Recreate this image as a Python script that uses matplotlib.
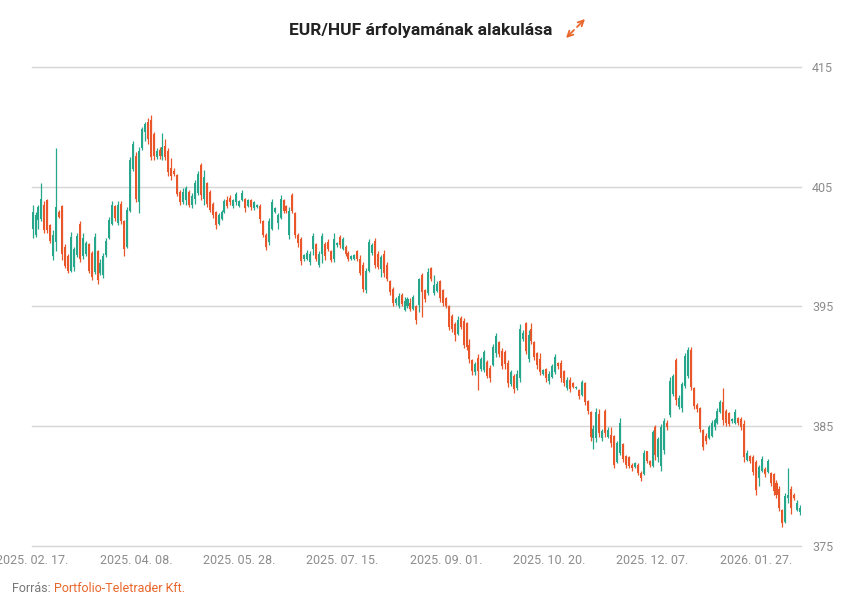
import numpy as np
import matplotlib
matplotlib.use('Agg')
import matplotlib.pyplot as plt

plt.rcParams['font.family'] = ['Roboto', 'DejaVu Sans']

TITLE = 'EUR/HUF árfolyamának alakulása'
tick_labels = ['2025. 02. 17.', '2025. 04. 08.', '2025. 05. 28.', '2025. 07. 15.',
               '2025. 09. 01.', '2025. 10. 20.', '2025. 12. 07.', '2026. 01. 27.']
tick_index = [0, 35, 70, 105, 140, 175, 210, 245]
y_ticks = [375, 385, 395, 405, 415]

# daily EUR/HUF candles
opens = [
    401.5, 401.0, 402.2, 402.3, 403.5, 403.9, 401.8, 399.2, 400.4, 402.9,
    403.4, 400.0, 399.2, 398.0, 398.3, 399.3, 401.9, 399.2, 399.4, 400.2,
    399.5, 397.9, 399.6, 397.8, 397.6, 399.3, 400.7, 401.9, 403.4, 402.0,
    403.6, 402.1, 400.0, 403.0, 406.5, 407.6, 403.7, 408.2, 409.6, 410.4,
    410.6, 409.4, 407.5, 408.1, 407.6, 408.4, 408.0, 406.6, 406.3, 406.0,
    404.6, 403.7, 403.9, 404.6, 403.5, 404.0, 404.5, 406.8, 404.0, 405.3,
    404.6, 403.6, 402.9, 401.9, 402.3, 402.9, 403.9, 404.1, 403.4, 403.7,
    403.4, 403.9, 404.0, 403.4, 403.9, 403.2, 403.3, 403.4, 402.1, 401.0,
    400.4, 401.5, 402.9, 402.0, 402.4, 403.9, 403.4, 401.0, 404.3, 402.8,
    401.0, 400.6, 399.0, 399.0, 398.7, 399.8, 400.2, 398.5, 399.4, 400.2,
    400.4, 399.6, 399.0, 400.1, 400.8, 399.8, 400.0, 399.5, 399.0, 399.0,
    399.6, 399.0, 398.5, 396.4, 398.0, 399.5, 400.5, 399.4, 398.1, 399.4,
    398.5, 397.1, 396.5, 395.3, 395.0, 396.0, 394.7, 395.0, 395.3, 394.8,
    395.0, 395.1, 397.6, 396.4, 396.1, 398.2, 396.1, 396.3, 397.1, 396.4,
    395.7, 395.0, 394.2, 393.5, 392.7, 394.0, 393.8, 393.6, 391.8, 390.5,
    389.5, 390.7, 389.8, 389.7, 390.4, 389.9, 390.1, 391.1, 392.0, 391.3,
    391.2, 390.3, 388.5, 389.2, 388.2, 389.0, 392.3, 393.6, 390.6, 393.1,
    392.0, 391.1, 390.6, 389.4, 389.8, 388.8, 389.1, 389.5, 390.3, 390.3,
    389.6, 388.2, 388.9, 388.6, 388.2, 388.0, 387.6, 388.6, 387.1, 386.2,
    384.0, 384.0, 386.0, 384.0, 386.3, 384.1, 384.3, 384.2, 382.0, 382.8,
    383.5, 382.5, 382.4, 381.8, 381.6, 381.8, 381.1, 381.0, 382.9, 382.1,
    381.7, 384.9, 382.4, 381.7, 383.0, 385.3, 385.9, 387.7, 390.5, 386.6,
    386.5, 388.4, 389.2, 391.4, 388.2, 386.8, 386.5, 384.7, 384.2, 384.0,
    384.2, 384.9, 385.3, 386.2, 387.0, 386.3, 386.1, 385.4, 385.3, 385.7,
    385.6, 385.2, 382.2, 382.5, 382.4, 382.0, 380.7, 381.3, 381.4, 381.2,
    381.1, 381.0, 380.3, 379.8, 378.0, 377.0, 379.0, 379.8, 379.3, 378.0,
    377.8]
highs = [
    403.5, 402.9, 403.5, 405.3, 403.8, 404.0, 401.9, 401.4, 408.2, 403.1,
    403.5, 400.2, 399.4, 401.2, 400.0, 401.1, 402.1, 401.1, 400.5, 400.3,
    399.6, 401.1, 399.7, 399.0, 399.5, 400.7, 402.5, 403.8, 403.5, 403.8,
    403.8, 402.2, 403.3, 407.5, 408.8, 407.9, 408.3, 410.0, 410.4, 410.7,
    411.0, 409.6, 408.2, 408.3, 409.5, 409.0, 408.2, 407.4, 406.6, 406.1,
    404.7, 404.9, 405.1, 404.7, 404.5, 405.6, 406.3, 407.0, 406.4, 405.4,
    404.7, 403.7, 403.0, 402.8, 403.1, 404.0, 404.2, 404.3, 404.0, 404.6,
    403.9, 404.7, 404.1, 404.0, 404.0, 403.8, 403.6, 403.6, 402.2, 401.1,
    402.4, 404.0, 403.3, 402.8, 404.3, 404.0, 403.5, 403.3, 404.5, 402.9,
    401.1, 400.8, 399.4, 399.7, 399.6, 401.1, 400.3, 399.6, 401.1, 400.4,
    400.6, 399.7, 401.1, 400.4, 401.0, 400.8, 400.1, 399.6, 399.3, 399.4,
    399.7, 399.3, 398.7, 398.2, 400.6, 400.3, 400.7, 399.6, 399.3, 399.7,
    398.7, 397.2, 396.6, 395.8, 396.1, 396.1, 395.8, 395.8, 395.7, 396.0,
    395.1, 397.4, 397.8, 396.5, 398.2, 398.3, 397.6, 397.1, 397.2, 396.5,
    395.8, 395.1, 394.4, 393.7, 394.2, 394.2, 394.0, 393.7, 392.3, 390.6,
    390.4, 391.0, 390.8, 391.4, 390.5, 390.1, 391.9, 392.8, 392.1, 391.5,
    391.4, 390.5, 389.7, 389.4, 389.7, 393.5, 393.0, 393.7, 393.0, 393.6,
    392.1, 391.2, 391.1, 389.8, 389.9, 389.6, 390.2, 391.0, 390.4, 390.5,
    389.7, 389.1, 389.1, 388.7, 388.4, 388.1, 388.9, 388.7, 387.2, 386.3,
    385.1, 386.5, 386.4, 384.8, 386.4, 384.9, 384.9, 384.3, 383.8, 385.7,
    383.6, 382.6, 382.5, 381.9, 382.0, 381.9, 381.3, 383.0, 382.9, 382.2,
    384.7, 385.1, 384.1, 385.2, 385.7, 385.5, 389.1, 389.4, 390.7, 387.6,
    388.7, 391.1, 391.6, 391.6, 388.3, 386.9, 386.6, 384.8, 384.4, 385.1,
    385.5, 385.7, 386.5, 387.2, 388.2, 386.4, 386.2, 385.7, 386.4, 385.8,
    385.8, 385.5, 383.0, 382.6, 382.6, 382.2, 381.8, 382.5, 381.6, 382.3,
    381.2, 381.1, 380.5, 380.0, 378.1, 379.4, 381.5, 380.0, 379.4, 378.8,
    378.4]
lows = [
    400.7, 400.8, 401.5, 402.1, 401.1, 401.1, 400.3, 398.9, 399.6, 402.4,
    398.9, 398.2, 397.8, 397.9, 398.0, 399.1, 398.7, 399.0, 399.2, 397.8,
    397.2, 397.7, 396.9, 397.6, 397.4, 399.1, 400.6, 401.8, 402.1, 401.8,
    401.9, 399.2, 399.9, 402.9, 406.3, 403.7, 402.8, 408.1, 408.8, 408.6,
    407.2, 407.2, 407.3, 407.3, 407.2, 407.2, 405.9, 405.6, 405.9, 404.2,
    403.5, 403.6, 403.5, 403.3, 403.2, 403.6, 404.3, 403.9, 403.5, 403.3,
    402.9, 402.4, 401.5, 401.8, 402.2, 402.8, 403.2, 403.5, 403.2, 403.5,
    403.3, 403.8, 402.9, 403.3, 403.1, 403.1, 403.2, 402.0, 400.8, 399.7,
    400.1, 401.4, 402.8, 401.5, 402.3, 402.8, 402.8, 400.6, 402.8, 400.7,
    400.0, 398.5, 398.8, 398.9, 398.5, 399.3, 398.8, 398.3, 398.6, 398.9,
    399.6, 398.7, 398.7, 400.0, 399.9, 399.7, 399.2, 398.8, 398.9, 398.9,
    398.8, 397.6, 396.2, 396.1, 397.9, 399.3, 398.2, 398.1, 397.5, 397.5,
    397.1, 396.0, 395.0, 395.1, 394.9, 395.0, 394.6, 394.9, 394.6, 394.7,
    393.5, 394.5, 394.1, 395.4, 396.0, 397.1, 396.0, 396.2, 395.4, 395.0,
    394.9, 393.0, 392.9, 392.1, 392.6, 393.1, 391.5, 391.4, 390.3, 389.3,
    389.3, 388.0, 389.6, 389.5, 389.0, 388.7, 390.0, 390.8, 390.8, 389.8,
    389.8, 388.3, 388.4, 387.8, 388.0, 388.7, 392.1, 391.0, 390.4, 391.9,
    390.5, 389.8, 389.3, 389.3, 388.7, 388.5, 389.0, 389.4, 389.8, 388.7,
    388.4, 388.0, 387.9, 388.2, 388.1, 387.3, 387.5, 386.8, 386.0, 383.8,
    383.1, 383.7, 384.1, 383.8, 384.1, 384.0, 383.3, 381.5, 381.9, 382.6,
    382.0, 381.5, 381.5, 381.3, 381.5, 380.9, 380.4, 380.9, 381.9, 381.6,
    381.6, 382.2, 382.0, 381.3, 382.7, 384.7, 385.8, 387.5, 386.8, 386.4,
    386.2, 388.2, 389.0, 388.0, 386.4, 386.2, 384.5, 383.0, 383.5, 383.9,
    384.1, 384.7, 385.2, 386.1, 385.1, 385.0, 385.0, 385.3, 385.2, 385.1,
    384.7, 382.0, 382.1, 381.9, 380.9, 379.3, 380.0, 381.2, 380.8, 381.1,
    380.0, 379.3, 379.0, 377.9, 376.6, 376.9, 378.6, 377.7, 378.8, 377.9,
    377.6]
closes = [
    402.9, 402.6, 403.3, 404.0, 401.4, 401.4, 400.5, 401.0, 403.3, 402.5,
    399.4, 398.4, 398.0, 400.8, 399.8, 400.9, 399.0, 400.7, 400.3, 398.0,
    397.5, 400.8, 397.2, 398.6, 399.2, 400.5, 402.2, 403.5, 402.4, 403.5,
    402.1, 399.8, 403.1, 407.2, 408.6, 404.0, 408.0, 409.8, 410.2, 409.0,
    407.5, 407.6, 408.0, 407.6, 408.3, 407.5, 406.2, 405.9, 406.1, 404.4,
    403.7, 404.6, 404.9, 403.5, 404.2, 405.3, 406.1, 404.3, 405.8, 403.6,
    403.1, 402.6, 401.8, 402.6, 402.9, 403.8, 403.4, 403.7, 403.9, 404.4,
    403.8, 404.5, 403.2, 403.9, 403.3, 403.7, 403.5, 402.3, 401.0, 400.0,
    402.1, 403.7, 403.2, 402.6, 404.0, 403.0, 403.0, 403.0, 403.0, 401.0,
    400.3, 398.8, 399.3, 399.5, 399.4, 400.9, 399.0, 399.4, 400.9, 399.2,
    399.8, 398.9, 400.6, 400.3, 400.1, 400.6, 399.4, 399.0, 399.2, 399.3,
    399.0, 397.8, 396.5, 398.0, 400.4, 400.1, 398.5, 398.3, 399.1, 397.8,
    397.3, 396.2, 395.3, 395.6, 395.9, 395.2, 395.5, 395.6, 394.8, 395.8,
    393.9, 397.3, 396.2, 395.6, 397.9, 397.3, 396.8, 396.9, 395.7, 395.3,
    395.0, 393.3, 393.1, 392.6, 393.9, 393.3, 391.8, 391.6, 390.6, 389.6,
    390.2, 389.6, 390.6, 391.2, 389.2, 389.0, 391.6, 392.5, 391.0, 390.0,
    390.2, 388.6, 389.5, 388.1, 389.4, 393.1, 392.8, 391.3, 392.6, 392.1,
    390.8, 390.1, 389.5, 389.7, 389.0, 389.4, 390.0, 390.8, 390.0, 389.0,
    388.6, 388.9, 388.1, 388.3, 388.3, 387.5, 388.7, 387.0, 386.3, 384.1,
    384.8, 386.2, 384.4, 384.6, 384.4, 384.7, 383.6, 381.8, 383.6, 385.3,
    382.3, 381.8, 381.7, 381.5, 381.9, 381.1, 380.7, 382.8, 382.1, 381.8,
    384.5, 382.6, 383.9, 384.9, 385.4, 384.9, 388.8, 389.2, 387.2, 387.4,
    388.5, 390.9, 391.4, 388.3, 386.7, 386.4, 384.8, 383.3, 383.8, 384.9,
    385.3, 385.5, 386.3, 387.0, 385.5, 385.3, 385.2, 385.6, 386.2, 385.3,
    384.9, 382.4, 382.8, 382.1, 381.2, 379.7, 381.6, 382.3, 381.0, 382.1,
    380.3, 379.6, 379.3, 378.2, 376.9, 379.2, 379.3, 378.2, 379.0, 378.6,
    378.2]

UP = '#26a68a'
DOWN = '#e8562a'
ORANGE = '#e8662a'
GRID = '#d6d6d6'
TEXT = '#8c8c8c'

W, H = 858, 606
fig = plt.figure(figsize=(W / 100, H / 100), dpi=100)
ax = fig.add_axes([32 / W, (H - 546) / H, 769 / W, 479 / H])

o = np.array(opens)
hi = np.array(highs)
lo = np.array(lows)
c = np.array(closes)
x = np.arange(len(c))
colors = np.where(c >= o, UP, DOWN)

ax.vlines(x, lo, hi, colors=colors, linewidth=0.9)
body = np.maximum(np.abs(c - o), 0.08)
ax.bar(x, body, bottom=np.minimum(o, c), width=0.68, color=colors, linewidth=0)

ax.set_xlim(-0.2, len(c) - 0.7)
ax.set_ylim(375, 415)
ax.set_yticks(y_ticks)
ax.yaxis.tick_right()
ax.set_xticks(tick_index, tick_labels)
ax.grid(axis='y', color=GRID, linewidth=1)
ax.set_axisbelow(True)
for s in ax.spines.values():
    s.set_visible(False)
ax.tick_params(length=0, colors=TEXT, labelsize=9)
ax.tick_params(axis='y', pad=8)
ax.tick_params(axis='x', pad=6)
for gl in ax.get_ygridlines():
    gl.set_clip_on(False)

fig.text(421 / W, 1 - 30 / H, TITLE, ha='center', va='center',
         fontsize=12.5, fontweight='bold', color='#222222')

# expand icon next to the title
for start, end in [((577, 27), (585, 19)), ((574, 30), (566, 38))]:
    ax.annotate('', xy=(end[0], H - end[1]), xytext=(start[0], H - start[1]),
                xycoords='figure pixels', textcoords='figure pixels',
                arrowprops=dict(arrowstyle='->', color=ORANGE, lw=1.3,
                                shrinkA=0, shrinkB=0),
                annotation_clip=False)

src = fig.text(12 / W, 1 - 589 / H, 'Forrás: ', ha='left', va='center',
               fontsize=9, color='#777777')
ax.annotate('Portfolio-Teletrader Kft.', xy=(1, 0), xycoords=src,
            ha='left', va='bottom', fontsize=9, color=ORANGE,
            annotation_clip=False)

fig.savefig('out.png', dpi=100)
